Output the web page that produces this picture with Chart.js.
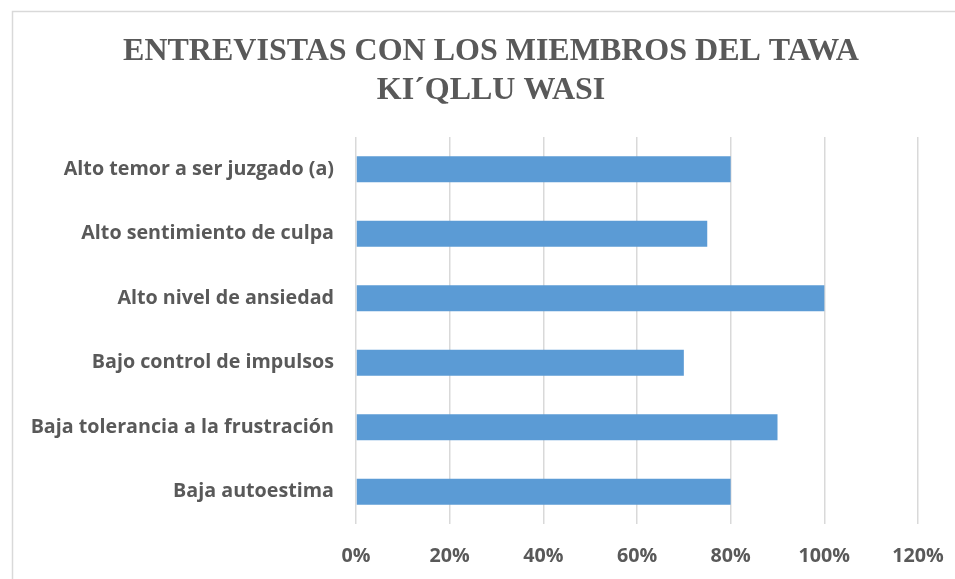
<!DOCTYPE html>
<html>
<head>
<meta charset="utf-8">
<script src="https://cdn.jsdelivr.net/npm/chart.js@4/dist/chart.umd.min.js"></script>
<style>
    html, body { margin: 0; padding: 0; background: #fff; }
    #wrap { width: 955px; height: 579px; position: relative; }
</style>
</head>
<body>
<div id="wrap"><canvas id="chart"></canvas></div>
<script>
// Chart data
const categories = [
    'Alto temor a ser juzgado (a)',
    'Alto sentimiento de culpa',
    'Alto nivel de ansiedad',
    'Bajo control de impulsos',
    'Baja tolerancia a la frustración',
    'Baja autoestima'
];
const values = [0.80, 0.75, 1.00, 0.70, 0.90, 0.80];
const xTicks = [0, 0.2, 0.4, 0.6, 0.8, 1.0, 1.2];
const titleLines = ['ENTREVISTAS CON LOS MIEMBROS DEL TAWA', 'KI´QLLU WASI'];

const textGray = '#595959';
const gridGray = '#d9d9d9';
const barBlue = '#5B9BD5';
const labelFont = { family: '"Open Sans", Lato, sans-serif', size: 19.7, weight: 'bold' };

// Outer frame like the office chart border
const framePlugin = {
    id: 'frame',
    beforeDraw(chart) {
        const ctx = chart.ctx;
        ctx.save();
        ctx.strokeStyle = gridGray;
        ctx.lineWidth = 1.5;
        ctx.strokeRect(12.5, 11.5, chart.width + 20, chart.height + 20);
        ctx.restore();
    }
};

// Two-line title, centred on the frame rather than the canvas
const titlePlugin = {
    id: 'frameTitle',
    afterDraw(chart) {
        const ctx = chart.ctx;
        ctx.save();
        ctx.fillStyle = textGray;
        ctx.font = 'bold 32px "Liberation Serif", "Times New Roman", serif';
        ctx.textAlign = 'center';
        ctx.textBaseline = 'middle';
        titleLines.forEach((line, i) => {
            ctx.fillText(line, 491, 52 + i * 39);
        });
        ctx.restore();
    }
};

new Chart(document.getElementById('chart'), {
    type: 'bar',
    data: {
        labels: categories,
        datasets: [{
            data: values,
            backgroundColor: barBlue,
            borderWidth: 0,
            barPercentage: 0.4,
            categoryPercentage: 1.0
        }]
    },
    plugins: [framePlugin, titlePlugin],
    options: {
        indexAxis: 'y',
        responsive: true,
        maintainAspectRatio: false,
        animation: false,
        layout: {
            padding: { left: 10, right: 37, top: 137, bottom: 0 }
        },
        plugins: {
            legend: { display: false },
            tooltip: { enabled: false },
            title: { display: false }
        },
        scales: {
            x: {
                min: 0,
                max: 1.2,
                afterBuildTicks(scale) {
                    scale.ticks = xTicks.map(v => ({ value: v }));
                },
                afterFit(scale) {
                    scale.height = 55;
                    scale.paddingLeft = 0;
                    scale.paddingRight = 0;
                },
                grid: {
                    color: gridGray,
                    lineWidth: 1.5,
                    drawTicks: false
                },
                border: { display: false },
                ticks: {
                    color: textGray,
                    padding: 21,
                    font: labelFont,
                    callback: v => Math.round(v * 100) + '%'
                }
            },
            y: {
                afterFit(scale) {
                    scale.width = 346;
                },
                grid: { display: false, drawTicks: false },
                border: { display: false },
                ticks: {
                    color: textGray,
                    padding: 22,
                    font: labelFont
                }
            }
        }
    }
});
</script>
</body>
</html>
